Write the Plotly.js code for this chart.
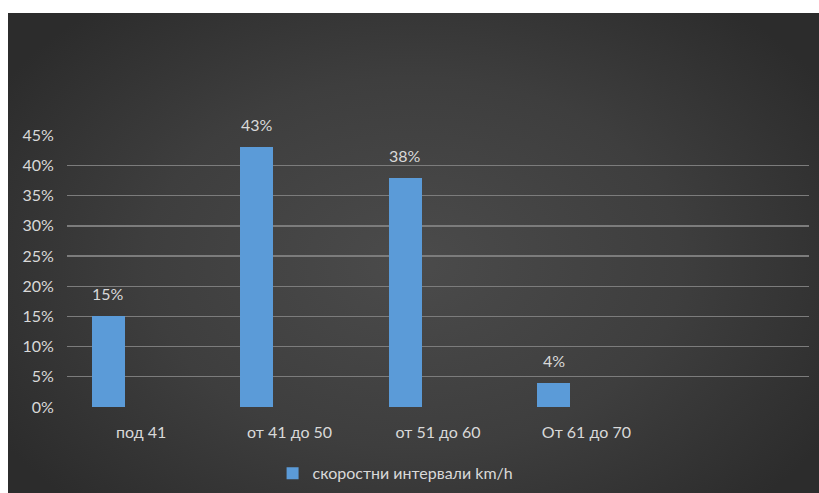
<!DOCTYPE html>
<html>
<head>
<meta charset="utf-8">
<script src="https://cdn.plot.ly/plotly-3.0.1.min.js"></script>
<style>
  html, body { margin: 0; padding: 0; background: #ffffff; width: 819px; height: 493px; overflow: hidden; }
  #bg {
    position: absolute; left: 8px; top: 13px; right: 0; bottom: 0;
    background: radial-gradient(ellipse 60% 70% at 50% 52%, #4b4b4b 0%, #3e3e3e 55%, #2c2c2c 100%);
  }
  #chart { position: absolute; left: 0; top: 0; width: 819px; height: 493px; }
</style>
</head>
<body>
<div id="bg"></div>
<div id="chart"></div>
<script>
// Speed intervals and the share of vehicles in each
const categories = ['под 41', 'от 41 до 50', 'от 51 до 60', 'От 61 до 70'];
const shares = [0.15, 0.43, 0.38, 0.04];
const seriesName = 'скоростни интервали km/h';
const yTicks = [0, 0.05, 0.10, 0.15, 0.20, 0.25, 0.30, 0.35, 0.40, 0.45];

const barColor = '#5b9bd8';
const textColor = '#d9d9d9';
const fontFamily = 'Lato, "Open Sans", sans-serif';

// bars sit in the left part of each category slot
const barOffset = -0.332;
const barWidth = 0.222;

const trace = {
  type: 'bar',
  x: categories,
  y: shares,
  name: seriesName,
  offset: barOffset,
  width: barWidth,
  marker: { color: barColor, line: { width: 0 } },
  hoverinfo: 'skip',
  showlegend: true
};

// value labels above each bar, placed at the bar centre
const labels = shares.map((v, i) => ({
  x: i + barOffset + barWidth / 2,
  y: v,
  xref: 'x', yref: 'y',
  text: Math.round(v * 100) + '%',
  showarrow: false,
  yanchor: 'bottom',
  yshift: 11,
  font: { family: fontFamily, size: 16, color: textColor }
}));

const layout = {
  width: 819,
  height: 493,
  margin: { l: 67, r: 10, t: 135, b: 86 },
  paper_bgcolor: 'rgba(0,0,0,0)',
  plot_bgcolor: 'rgba(0,0,0,0)',
  font: { family: fontFamily, size: 16, color: textColor },
  showlegend: true,
  legend: {
    orientation: 'h',
    xref: 'container', yref: 'container',
    x: 0.483, xanchor: 'center',
    y: 0.04, yanchor: 'middle',
    itemwidth: 30,
    font: { family: fontFamily, size: 16, color: textColor },
    bgcolor: 'rgba(0,0,0,0)'
  },
  xaxis: {
    type: 'category',
    categoryorder: 'array',
    categoryarray: categories,
    range: [-0.5, 4.5],
    showgrid: false,
    zeroline: false,
    showline: false,
    ticks: 'outside',
    ticklen: 11,
    tickcolor: 'rgba(0,0,0,0)',
    tickfont: { family: fontFamily, size: 16, color: textColor },
    fixedrange: true
  },
  yaxis: {
    range: [0, 0.4505],
    tickvals: yTicks,
    tickformat: '.0%',
    showgrid: true,
    gridcolor: '#7c7c7c',
    gridwidth: 1.3,
    zeroline: false,
    showline: false,
    ticks: 'outside',
    ticklen: 9,
    tickcolor: 'rgba(0,0,0,0)',
    tickfont: { family: fontFamily, size: 16, color: textColor },
    fixedrange: true
  },
  annotations: labels,
  bargap: 0
};

Plotly.newPlot('chart', [trace], layout, { displayModeBar: false, staticPlot: true });
</script>
</body>
</html>
